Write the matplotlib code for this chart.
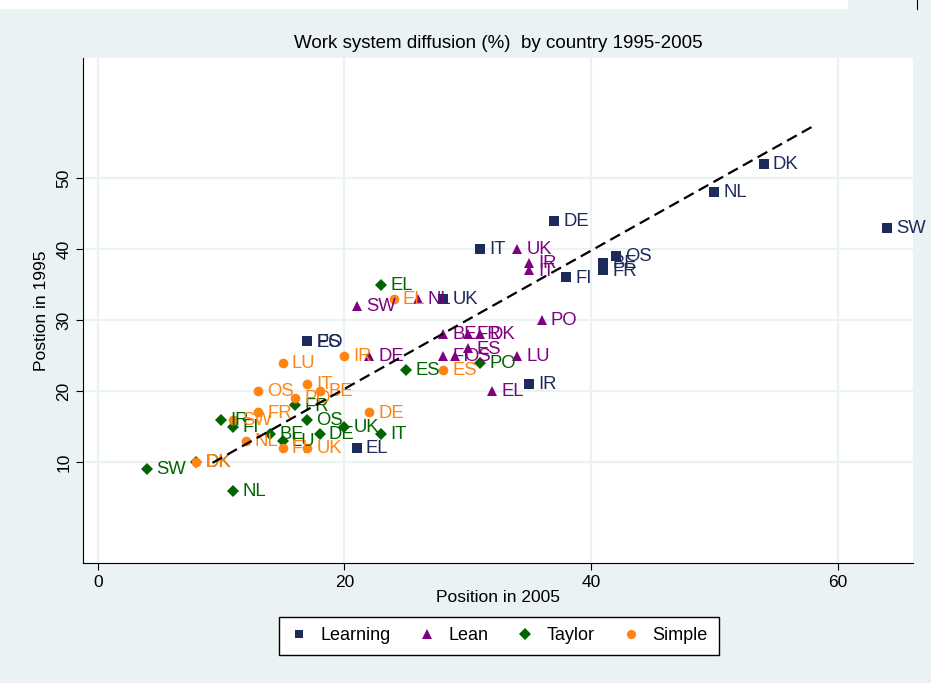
import matplotlib
matplotlib.use("Agg")
import matplotlib.pyplot as plt
from matplotlib.patches import Rectangle

plt.rcParams['font.family'] = ['Liberation Sans', 'DejaVu Sans']

# Work-system diffusion: position in 2005 (x) against position in 1995 (y)
learning_codes = ["DK", "NL", "SW", "DE", "IT", "OS", "BE", "FR", "FI", "UK", "EL", "IR", "PO", "ES"]
learning_2005 = [54, 50, 64, 37, 31, 42, 41, 41, 38, 28, 21, 35, 17, 17]
learning_1995 = [52, 48, 43, 44, 40, 39, 38, 37, 36, 33, 12, 21, 27, 27]

lean_codes = ["UK", "IR", "IT", "PO", "BE", "FR", "DK", "ES", "FI", "OS", "LU", "DE", "SW", "NL", "EL"]
lean_2005 = [34, 35, 35, 36, 28, 30, 31, 30, 28, 29, 34, 22, 21, 26, 32]
lean_1995 = [40, 38, 37, 30, 28, 28, 28, 26, 25, 25, 25, 25, 32, 33, 20]

taylor_codes = ["EL", "ES", "PO", "FR", "OS", "UK", "DE", "IT", "IR", "FI", "BE", "LU", "SW", "DK", "NL"]
taylor_2005 = [23, 25, 31, 16, 17, 20, 18, 23, 10, 11, 14, 15, 4, 8, 11]
taylor_1995 = [35, 23, 24, 18, 16, 15, 14, 14, 16, 15, 14, 13, 9, 10, 6]

simple_codes = ["DK", "NL", "FI", "UK", "SW", "FR", "OS", "LU", "PO", "IT", "BE", "IR", "EL", "ES", "DE"]
simple_2005 = [8, 12, 15, 17, 11, 13, 13, 15, 16, 17, 18, 20, 24, 28, 22]
simple_1995 = [10, 13, 12, 12, 16, 17, 20, 24, 19, 21, 20, 25, 33, 23, 17]

# Overall trend line endpoints
trend_2005 = [9.3, 57.9]
trend_1995 = [9.9, 57.2]

x_ticks = [0, 20, 40, 60]
y_ticks = [10, 20, 30, 40, 50]

BG = "#EAF2F3"
NAVY = "#1C2A5C"
PURPLE = "#800080"
GREEN = "#006400"
ORANGE = "#FF8411"

fig = plt.figure(figsize=(9.31, 6.83), dpi=100, facecolor=BG)
ax = fig.add_axes([83 / 931, 1 - 563 / 683, (913 - 83) / 931, (563 - 58) / 683])
ax.set_facecolor("white")

series = [
    ("Learning", learning_codes, learning_2005, learning_1995, "s", NAVY, 6.5),
    ("Lean", lean_codes, lean_2005, lean_1995, "^", PURPLE, 7.2),
    ("Taylor", taylor_codes, taylor_2005, taylor_1995, "D", GREEN, 6.5),
    ("Simple", simple_codes, simple_2005, simple_1995, "o", ORANGE, 7.0),
]

handles = []
for name, codes, xs, ys, marker, color, ms in series:
    h, = ax.plot(xs, ys, linestyle="none", marker=marker, color=color,
                 markersize=ms, markeredgewidth=0, label=name, zorder=3,
                 clip_on=False)
    handles.append(h)
    for c, xv, yv in zip(codes, xs, ys):
        ax.annotate(c, (xv, yv), xytext=(6.5, -0.5), textcoords="offset points",
                    ha="left", va="center", fontsize=13.3, color=color,
                    zorder=4, annotation_clip=False)

ax.plot(trend_2005, trend_1995, color="black", linestyle=(0, (5, 2.6)),
        linewidth=1.6, zorder=5)

ax.set_xlim(-1.2, 66.1)
ax.set_ylim(-4.2, 66.9)
ax.set_xticks(x_ticks)
ax.set_yticks(y_ticks)
ax.grid(True, color=BG, linewidth=1.6, zorder=0)
ax.set_axisbelow(True)

for side in ("top", "right"):
    ax.spines[side].set_visible(False)
for side in ("left", "bottom"):
    ax.spines[side].set_color("black")
    ax.spines[side].set_linewidth(0.8)

ax.tick_params(axis="both", direction="out", length=5, width=0.8,
               labelsize=12.5, colors="black")
for lbl in ax.get_yticklabels():
    lbl.set_rotation(90)
    lbl.set_va("center")

ax.set_xlabel("Position in 2005", fontsize=12.5, labelpad=0)
ax.set_ylabel("Postion in 1995", fontsize=12.5, labelpad=5)
ax.set_title("Work system diffusion (%)  by country 1995-2005",
             family=["Liberation Sans Narrow", "Liberation Sans", "DejaVu Sans"],
             fontsize=13.5, pad=7)

leg = fig.legend(handles=handles, labels=[s[0] for s in series], ncol=4,
                 loc="center", bbox_to_anchor=(499 / 931, 1 - 636 / 683),
                 frameon=True, fancybox=False, edgecolor="black",
                 facecolor="white", framealpha=1, fontsize=13,
                 markerscale=0.95, handlelength=1.0, handletextpad=0.7,
                 columnspacing=1.5, borderpad=0.6)
leg.get_frame().set_linewidth(1.0)

# white strip along the top edge
fig.patches.append(Rectangle((0, 1 - 9 / 683), 848 / 931, 9 / 683,
                             transform=fig.transFigure, facecolor="white",
                             edgecolor="none", zorder=-1))
fig.lines.append(plt.Line2D([917 / 931, 917 / 931], [1, 1 - 9 / 683],
                            transform=fig.transFigure, color="black",
                            linewidth=0.8))

fig.savefig("out.png", dpi=100, facecolor=BG)
